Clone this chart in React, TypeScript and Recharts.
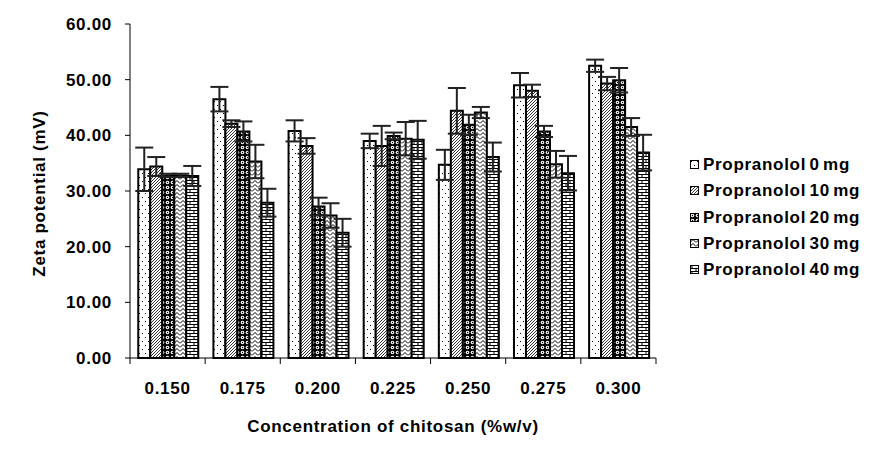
import React from 'react';
import { BarChart, Bar, XAxis, YAxis, ErrorBar, Legend } from 'recharts';

const categories = ['0.150', '0.175', '0.200', '0.225', '0.250', '0.275', '0.300'];
const seriesNames = ['Propranolol 0 mg', 'Propranolol 10 mg', 'Propranolol 20 mg', 'Propranolol 30 mg', 'Propranolol 40 mg'];
const mg0 = [33.9, 46.5, 40.8, 39.0, 34.7, 49.0, 52.5];
const err0 = [3.9, 2.2, 1.9, 1.3, 2.7, 2.2, 1.1];
const mg10 = [34.4, 42.1, 38.1, 38.1, 44.4, 48.0, 49.3];
const err10 = [1.7, 0.6, 1.4, 3.6, 4.1, 1.1, 1.2];
const mg20 = [32.8, 40.7, 27.2, 39.9, 41.9, 40.7, 49.9];
const err20 = [0.3, 1.8, 1.6, 0.6, 1.8, 1.0, 2.2];
const mg30 = [32.8, 35.3, 25.6, 39.4, 44.1, 34.8, 41.5];
const err30 = [0.3, 3.0, 2.2, 3.0, 1.0, 2.4, 1.6];
const mg40 = [32.7, 27.9, 22.5, 39.2, 36.1, 33.2, 36.9];
const err40 = [1.8, 2.5, 2.5, 3.4, 2.6, 3.1, 3.2];
const yTicks = [0, 10, 20, 30, 40, 50, 60];

const values = [mg0, mg10, mg20, mg30, mg40];
const errors = [err0, err10, err20, err30, err40];

const data = categories.map((c, i) => {
  const row: any = { cat: c };
  values.forEach((v, s) => {
    row['s' + s] = v[i];
    row['e' + s] = errors[s][i];
  });
  return row;
});

const FONT = '"Liberation Sans", Arial, sans-serif';

const XTick = (props: any) => {
  const { x, y, payload, index, visibleTicksCount, width } = props;
  const half = width / visibleTicksCount / 2;
  return (
    <g>
      <line x1={x - half} x2={x - half} y1={y - 24} y2={y - 18} stroke="#000" strokeWidth={1} />
      {index === visibleTicksCount - 1 && (
        <line x1={x + half} x2={x + half} y1={y - 24} y2={y - 18} stroke="#000" strokeWidth={1} />
      )}
      <text x={x} y={y} dy="0.71em" textAnchor="middle" fontFamily={FONT} fontWeight="bold" fontSize={17} letterSpacing={0.7} fill="#000">
        {payload.value}
      </text>
    </g>
  );
};

const renderLegend = () => (
  <div style={{ fontFamily: FONT, fontWeight: 'bold', fontSize: 17, letterSpacing: 0.7, color: '#000' }}>
    {seriesNames.map((n, i) => (
      <div key={n} style={{ height: 26.3, display: 'flex', alignItems: 'center', whiteSpace: 'nowrap' }}>
        <svg width={10} height={10} style={{ marginLeft: 2, marginRight: 3, flex: 'none' }}>
          <rect x={0.5} y={0.5} width={8} height={8} fill={`url(#pat${i})`} stroke="#000" strokeWidth={1} />
        </svg>
        <span style={{ wordSpacing: -2 }}>{n}</span>
      </div>
    ))}
  </div>
);

export default function App() {
  return (
    <div style={{ position: 'absolute', left: 0, top: 0, width: 890, height: 463, background: '#fff' }}>
      <BarChart
        width={890}
        height={463}
        data={data}
        margin={{ top: 24, right: 54, bottom: 75, left: 70 }}
        barCategoryGap="11%"
        barGap={0}
      >
        <defs>
          <pattern id="pat0" patternUnits="userSpaceOnUse" width={6} height={8}>
            <rect width={6} height={8} fill="#fff" />
            <rect x={1} y={1} width={1} height={1} fill="#000" />
            <rect x={4} y={5} width={1} height={1} fill="#000" />
          </pattern>
          <pattern id="pat1" patternUnits="userSpaceOnUse" width={3} height={3}>
            <rect width={3} height={3} fill="#fff" />
            <path d="M-1,1 l2,-2 M0,3 l3,-3 M2,4 l2,-2" stroke="#000" strokeWidth={0.8} />
          </pattern>
          <pattern id="pat2" patternUnits="userSpaceOnUse" width={5} height={5}>
            <rect width={5} height={5} fill="#000" />
            <circle cx={2.5} cy={2.5} r={1.8} fill="#fff" />
            <circle cx={2.5} cy={2.5} r={0.7} fill="#000" />
          </pattern>
          <pattern id="pat3" patternUnits="userSpaceOnUse" width={6} height={4}>
            <rect width={6} height={4} fill="#fff" />
            <path d="M0,3.5 L3,0.5 L6,3.5" stroke="#000" strokeWidth={1} fill="none" />
          </pattern>
          <pattern id="pat4" patternUnits="userSpaceOnUse" width={8} height={6}>
            <rect width={8} height={6} fill="#fff" />
            <path d="M0,0.5 H8 M0,3.5 H8 M2,0.5 V3.5 M6,3.5 V6.5" stroke="#000" strokeWidth={1} />
          </pattern>
        </defs>
        <XAxis
          dataKey="cat"
          height={30}
          axisLine={{ stroke: '#000', strokeWidth: 1 }}
          tickLine={false}
          tickSize={0}
          tickMargin={24}
          tick={<XTick />}
          interval={0}
          label={(p: any) => {
            const vb = p.viewBox;
            return (
              <text x={vb.x + vb.width / 2} y={vb.y + 74} textAnchor="middle" fontFamily={FONT} fontWeight="bold" fontSize={17} letterSpacing={0.7} fill="#000">
                Concentration of chitosan (%w/v)
              </text>
            );
          }}
        />
        <YAxis
          width={60}
          domain={[0, 60]}
          ticks={yTicks}
          interval={0}
          axisLine={{ stroke: '#000', strokeWidth: 1 }}
          tickLine={{ stroke: '#000', strokeWidth: 1 }}
          tickSize={5}
          tickMargin={13}
          tickFormatter={(v: number) => v.toFixed(2)}
          tick={{ fontFamily: FONT, fontWeight: 'bold', fontSize: 17, letterSpacing: 0.7, fill: '#000' }}
          label={(p: any) => {
            const vb = p.viewBox;
            const cx = vb.x - 31;
            const cy = vb.y + vb.height / 2 + 2.5;
            return (
              <text x={cx} y={cy} transform={`rotate(-90 ${cx} ${cy})`} textAnchor="middle" dominantBaseline="central" fontFamily={FONT} fontWeight="bold" fontSize={17} letterSpacing={0.7} fill="#000">
                Zeta potential (mV)
              </text>
            );
          }}
        />
        <Legend
          layout="vertical"
          align="right"
          verticalAlign="middle"
          content={renderLegend}
          wrapperStyle={{ width: 180, left: 688, top: 152 }}
        />
        {seriesNames.map((n, i) => (
          <Bar key={n} dataKey={'s' + i} name={n} fill={`url(#pat${i})`} stroke="#000" strokeWidth={2} isAnimationActive={false}>
            <ErrorBar dataKey={'e' + i} width={9} stroke="#222" strokeWidth={2} isAnimationActive={false} />
          </Bar>
        ))}
      </BarChart>
    </div>
  );
}
